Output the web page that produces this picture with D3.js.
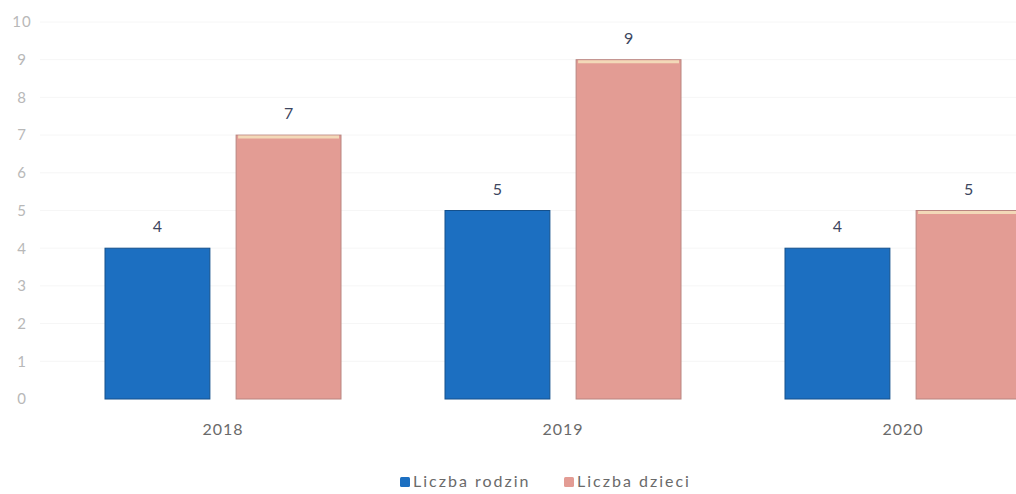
<!DOCTYPE html>
<html>
<head>
<meta charset="utf-8">
<script src="https://cdn.jsdelivr.net/npm/d3@7"></script>
<style>
  body { margin: 0; background: #fff; }
  text { font-family: Lato, "Open Sans", sans-serif; }
</style>
</head>
<body>
<div id="chart"></div>
<script>
    // dane z wykresu
    var years = ["2018", "2019", "2020"];
    var seriesNames = ["Liczba rodzin", "Liczba dzieci"];
    var rodziny = [4, 5, 4];
    var dzieci = [7, 9, 5];
    var yTicks = [0, 1, 2, 3, 4, 5, 6, 7, 8, 9, 10];

    var colors = ["#1c6fc1", "#e39c94"];
    var strokes = ["#14508c", "#b98580"];

    var width = 1016, height = 494;

    var svg = d3.select("#chart")
      .append("svg")
        .attr("width", width)
        .attr("height", height);

    // skala x - ostatnia kategoria wychodzi poza kadr
    var x = d3.scaleBand()
      .domain(years)
      .range([53, 1073])
      .paddingInner(0)
      .paddingOuter(0);

    var x1 = d3.scaleBand()
      .domain([0, 1])
      .range([x.bandwidth() / 2 - 118, x.bandwidth() / 2 + 118])
      .paddingInner(0.2);

    var y = d3.scaleLinear()
      .domain([0, 10])
      .range([399, 22]);

    // bardzo jasne linie siatki
    svg.append("g")
      .selectAll("line")
      .data(yTicks.slice(1))
      .enter().append("line")
        .attr("x1", 40).attr("x2", width)
        .attr("y1", function(d) { return y(d); })
        .attr("y2", function(d) { return y(d); })
        .attr("stroke", "#f6f6f6")
        .attr("stroke-width", 1);

    // os y
    var yAxis = svg.append("g")
      .attr("transform", "translate(22,0)")
      .call(d3.axisLeft(y).tickValues(yTicks).tickSize(0).tickPadding(0));
    yAxis.select(".domain").remove();
    yAxis.selectAll("text")
      .attr("text-anchor", "middle")
      .attr("x", 0)
      .attr("fill", "#b8b8b8")
      .style("letter-spacing", "1px")
      .style("font-size", "15px");

    // os x
    var xAxis = svg.append("g")
      .attr("transform", "translate(0,399)")
      .call(d3.axisBottom(x).tickSize(0).tickPadding(25));
    xAxis.select(".domain").remove();
    xAxis.selectAll("text")
      .attr("fill", "#6a6a6a")
      .style("letter-spacing", "1px")
      .style("font-size", "16px");

    var series = [rodziny, dzieci];

    var groups = svg.append("g")
      .selectAll("g")
      .data(years)
      .enter().append("g")
        .attr("transform", function(d) { return "translate(" + x(d) + ",0)"; });

    groups.selectAll("rect")
      .data(function(d, i) { return series.map(function(s, k) { return {k: k, v: s[i]}; }); })
      .enter().append("rect")
        .attr("x", function(d) { return x1(d.k); })
        .attr("y", function(d) { return y(d.v); })
        .attr("width", x1.bandwidth())
        .attr("height", function(d) { return y(0) - y(d.v); })
        .attr("fill", function(d) { return colors[d.k]; })
        .attr("stroke", function(d) { return strokes[d.k]; })
        .attr("stroke-width", 1);

    // jasna krawedz na gorze rozowych slupkow
    groups.selectAll("line.top")
      .data(function(d, i) { return [{k: 1, v: dzieci[i]}]; })
      .enter().append("line")
        .attr("class", "top")
        .attr("x1", function(d) { return x1(d.k) + 2; })
        .attr("x2", function(d) { return x1(d.k) + x1.bandwidth() - 2; })
        .attr("y1", function(d) { return y(d.v) + 2; })
        .attr("y2", function(d) { return y(d.v) + 2; })
        .attr("stroke", "#f3d9b8")
        .attr("stroke-width", 3);

    // etykiety wartosci
    groups.selectAll("text.val")
      .data(function(d, i) { return series.map(function(s, k) { return {k: k, v: s[i]}; }); })
      .enter().append("text")
        .attr("class", "val")
        .attr("x", function(d) { return x1(d.k) + x1.bandwidth() / 2; })
        .attr("y", function(d) { return y(d.v) - 16; })
        .attr("text-anchor", "middle")
        .attr("fill", "#3c4660")
        .style("font-size", "16px")
        .text(function(d) { return d.v; });

    // legenda
    var legend = svg.append("g").attr("transform", "translate(0,482)");
    var lx = [400, 564];
    seriesNames.forEach(function(name, k) {
      legend.append("rect")
        .attr("x", lx[k]).attr("y", -5)
        .attr("width", 10).attr("height", 10)
        .attr("rx", 1.5)
        .attr("fill", colors[k]);
      legend.append("text")
        .attr("x", lx[k] + 13).attr("y", 5)
        .attr("fill", "#6a6a6a")
        .style("font-size", "16px")
        .style("letter-spacing", "2px")
        .text(name);
    });
</script>
</body>
</html>
